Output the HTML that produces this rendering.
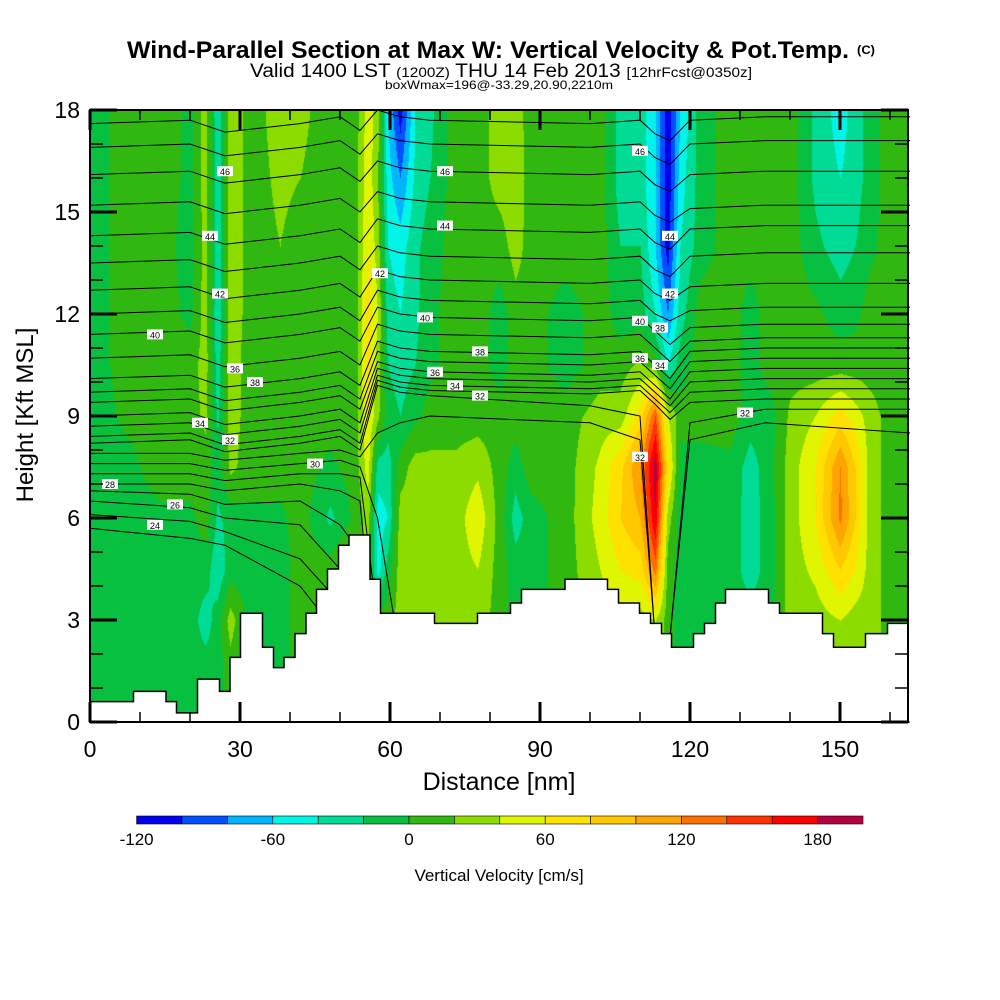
<!DOCTYPE html>
<html><head><meta charset="utf-8"><style>
html,body{margin:0;padding:0;background:#fff;width:1000px;height:1000px;overflow:hidden}
#wrap{position:relative;width:1000px;height:1000px}
canvas{position:absolute;left:90px;top:110px}
svg{position:absolute;left:0;top:0}
text{font-family:"Liberation Sans",sans-serif}
</style></head><body>
<div id="wrap">
<canvas id="field" width="818" height="612"></canvas>
<svg id="svg" width="1000" height="1000">
<g id="lines"></g>
<path id="terrain" fill="#fff" stroke="#000" stroke-width="1.5"/>
<g id="clabels"></g>
<g id="axes"></g>
<text x="127" y="58" textLength="722" lengthAdjust="spacingAndGlyphs" font-size="24" font-weight="bold">Wind-Parallel Section at Max W: Vertical Velocity &amp; Pot.Temp.</text>
<text x="857" y="54" textLength="18" lengthAdjust="spacingAndGlyphs" font-size="12" font-weight="bold">(C)</text>
<text x="250" y="77" textLength="502" lengthAdjust="spacingAndGlyphs" font-size="19">Valid 1400 LST <tspan font-size="14">(1200Z)</tspan> THU 14 Feb 2013 <tspan font-size="14">[12hrFcst@0350z]</tspan></text>
<text x="385" y="89" textLength="228" lengthAdjust="spacingAndGlyphs" font-size="12">boxWmax=196@-33.29,20.90,2210m</text>
<text x="499" y="790" text-anchor="middle" font-size="25">Distance [nm]</text>
<text transform="translate(33,415) rotate(-90)" text-anchor="middle" font-size="24">Height [Kft MSL]</text>
<g id="cbar"></g>
<text x="499" y="881" text-anchor="middle" font-size="17">Vertical Velocity [cm/s]</text>
</svg>
</div>
<script>
// ---- data ----
const colorLevels = [-120,-100,-80,-60,-40,-20,0,20,40,60,80,100,120,140,160,180,200];
const colorFills = ["#0000f0","#0050ff","#00b4ff","#00f5e6","#00dc96","#08c040","#30b810","#8cdc00","#e0f500","#ffe100","#ffc800","#ffa500","#ff6e00","#ff3200","#ff0000","#b40040"];
const cbarTicks = [-120,-60,0,60,120,180];
const xTicks = [0,30,60,90,120,150];
const yTicks = [0,3,6,9,12,15,18];
const gridX = [0,8,14,20,23,25.5,28,32,38,42,48,53,55.5,57.5,59.5,62,65,68,73,77.5,82,85,88,95,102,106,110,113,115.5,118,122,128,132,136,140,145,150,153,156,160,164];
const gridY = [18,16,14,12,10.5,9,7.5,6,4.5,3,1.5,0];
const wColumns = [
[-10,-10,-10,-10,-10,-10,-10,-10,-5,-5,-5,-5],
[10,10,10,10,10,5,-5,-10,-10,-10,-10,-10],
[10,10,10,10,10,10,10,-5,-10,-20,-10,-10],
[-5,-5,-10,-5,10,10,10,-5,-10,-10,-10,-10],
[30,30,30,30,30,25,10,10,-10,-30,-10,-10],
[-40,-35,-35,-40,-30,-25,-10,-25,-35,-10,-10,-10],
[35,35,35,35,30,30,25,-10,-10,30,10,10],
[10,10,10,10,10,10,10,-5,-10,-10,-10,-10],
[30,25,20,10,10,10,10,-5,-10,-10,-10,-10],
[25,20,10,10,10,10,10,10,10,10,10,10],
[10,10,10,5,10,10,-5,-25,10,10,10,10],
[10,10,10,10,10,10,10,5,30,30,30,30],
[50,55,60,70,70,60,50,30,20,20,20,20],
[30,20,30,40,30,25,-30,-50,-50,10,10,10],
[-60,-50,-40,-30,-20,-10,-30,-40,-10,10,10,10],
[-110,-80,-50,-40,-30,-20,10,30,30,30,30,30],
[-40,-35,-25,-25,-20,-5,30,30,30,30,30,30],
[-25,-20,-10,-5,-5,10,25,30,30,30,30,30],
[10,10,10,10,10,10,25,30,30,30,30,30],
[10,10,10,10,10,10,35,55,40,30,30,30],
[30,30,10,-10,-10,10,10,10,10,10,10,10],
[30,35,30,10,10,10,-10,-30,-10,-10,-10,-10],
[10,10,10,10,10,10,10,-10,-10,-10,-10,-10],
[10,10,10,-10,-10,10,10,10,10,10,10,10],
[10,10,10,10,10,30,45,50,40,30,30,30],
[-30,-30,-20,-10,10,30,75,80,60,30,30,30],
[-30,-30,-20,-10,25,70,120,100,70,30,30,30],
[-60,-60,-60,-40,10,140,195,180,130,40,40,40],
[-115,-115,-110,-80,-40,40,70,30,10,10,10,10],
[-60,-50,-40,-30,-10,10,-10,-10,-10,-10,-10,-10],
[-10,-10,-10,10,10,10,-10,-10,-10,-10,-10,-10],
[10,10,10,10,10,10,-5,-10,-10,-10,-10,-10],
[10,10,10,-10,-10,-10,-30,-30,-30,-10,-10,-10],
[10,10,10,10,10,-10,-5,-10,-10,-10,-10,-10],
[10,10,10,10,10,25,30,30,30,30,30,30],
[-25,-25,-15,5,10,40,60,60,45,30,30,30],
[-50,-40,-30,-10,10,70,120,125,80,40,30,30],
[-30,-30,-20,-5,10,50,80,80,60,30,30,30],
[-10,-10,-5,10,10,30,30,30,30,30,30,30],
[10,10,10,10,10,10,10,10,10,10,10,10],
[10,10,10,10,10,10,10,10,10,10,10,10]
];
const terrainX = [0,8.7,15.2,17.3,21.5,25.9,28,30.1,34.5,36.7,38.8,41,43.2,45.3,47.5,49.7,51.8,56,58.1,68.9,77.5,84.1,86.3,95,103.5,105.7,109.9,112.1,114.3,116.3,120.7,122.9,125.1,127.1,135.7,137.9,146.5,148.7,155.1,159.5];
const terrainH = [0.6,0.9,0.6,0.27,1.26,0.9,1.9,3.2,2.2,1.6,1.9,2.6,3.2,3.9,4.5,5.2,5.5,4.2,3.2,2.9,3.2,3.5,3.9,4.2,3.9,3.5,3.2,2.9,2.6,2.2,2.6,2.9,3.5,3.9,3.5,3.2,2.6,2.2,2.6,2.9];
const thetaX = [0,20,27,42,50,54,57.5,62,68,100,110,113,116,120,135,164];
const thetaLevels = [24,25,26,27,28,29,30,31,32,33,34,35,36,37,38,39,40,41,42,43,44,45,46,47,48];
const thetaHeights = [
[5.7,5.4,5.2,4.0,2.5,1.5,0,0,0,0,0,0,0,0,0,0],
[6.1,5.9,5.6,4.8,3.5,2.5,0,0,0,0,0,0,0,0,0,0],
[6.5,6.3,6.0,5.8,4.5,3.5,0,0,0,0,0,0,0,0,0,0],
[6.8,6.7,6.4,6.5,5.8,5.0,0,0,0,0,0,0,0,0,0,0],
[7.0,7.0,6.8,7.0,6.8,6.5,1,0,0,0,0,0,0,0,0,0],
[7.3,7.3,7.1,7.3,7.3,7.2,3,0,0,0,0,0,0,0,0,0],
[7.6,7.6,7.4,7.6,7.7,7.5,6,2,0,0,0,0,0,0,0,0],
[7.9,7.9,7.7,7.9,8.0,7.8,8.5,8.8,9.0,8.8,8.3,2.5,2.5,8.3,8.8,8.5],
[8.2,8.3,7.95,8.2,8.4,8.0,9.9,9.7,9.6,9.3,9.0,2.5,2.5,8.8,9.2,9.2],
[8.4,8.5,8.15,8.4,8.6,8.2,10.05,9.85,9.75,9.65,9.75,9.35,8.9,9.4,9.5,9.5],
[8.7,8.8,8.45,8.7,8.9,8.5,10.2,10.0,9.9,9.8,9.9,9.5,9.1,9.7,9.8,9.8],
[9.0,9.1,8.75,9.0,9.2,8.8,10.4,10.2,10.1,10.0,10.1,9.7,9.3,10.0,10.1,10.1],
[9.4,9.5,9.15,9.4,9.6,9.2,10.6,10.4,10.3,10.2,10.3,9.9,9.5,10.3,10.4,10.4],
[9.7,9.8,9.45,9.7,9.9,9.5,10.9,10.7,10.6,10.5,10.6,10.2,9.8,10.6,10.7,10.7],
[10.1,10.2,9.85,10.1,10.3,9.9,11.2,11.0,10.9,10.8,10.9,10.5,10.1,10.9,11.0,11.0],
[10.7,10.8,10.45,10.7,10.9,10.5,11.7,11.5,11.4,11.3,11.4,11.0,10.6,11.2,11.3,11.3],
[11.4,11.5,11.15,11.4,11.6,11.2,12.2,12.0,11.9,11.8,11.9,11.5,11.1,11.6,11.7,11.7],
[12.0,12.1,11.75,12.0,12.2,11.8,12.7,12.5,12.4,12.3,12.4,12.0,11.8,12.1,12.2,12.2],
[12.7,12.8,12.45,12.7,12.9,12.5,13.3,13.1,13.0,12.9,13.0,12.6,12.4,12.8,12.9,12.9],
[13.5,13.6,13.25,13.5,13.7,13.3,14.0,13.8,13.7,13.6,13.7,13.3,13.1,13.7,13.8,13.8],
[14.3,14.4,14.05,14.3,14.5,14.1,14.8,14.6,14.5,14.4,14.5,14.1,13.9,14.5,14.6,14.6],
[15.2,15.3,14.95,15.2,15.4,15.0,15.6,15.4,15.3,15.2,15.3,14.9,14.7,15.1,15.2,15.2],
[16.1,16.2,15.85,16.1,16.3,15.9,16.5,16.3,16.2,16.1,16.2,15.8,15.6,16.1,16.2,16.2],
[16.9,17.0,16.65,16.9,17.1,16.7,17.3,17.1,17.0,16.9,17.0,16.6,16.4,17.0,17.1,17.1],
[17.6,17.7,17.35,17.6,17.8,17.4,18.0,17.8,17.7,17.6,17.7,17.3,17.1,17.7,17.8,17.8]
];
const labelText = ["46","44","42","40","38","36","34","32","30","28","26","24","46","44","42","40","38","36","34","32","46","44","42","40","38","36","34","32","32"];
const labelX = [27,24,26,13,33,29,22,28,45,4,17,13,71,71,58,67,78,69,73,78,110,116,116,110,114,110,114,110,131];
const labelH = [16.2,14.3,12.6,11.4,10.0,10.4,8.8,8.3,7.6,7.0,6.4,5.8,16.2,14.6,13.2,11.9,10.9,10.3,9.9,9.6,16.8,14.3,12.6,11.8,11.6,10.7,10.5,7.8,9.1];

// ---- scales ----
const X0=90, X1=908, Y0=110, Y1=722;
const sx = d => X0 + d*5;
const sy = h => Y1 - h*34;
const NS='http://www.w3.org/2000/svg';
function mk(tag, parent){const e=document.createElementNS(NS,tag);parent.appendChild(e);return e;}
function hexRGB(h){return [parseInt(h.substr(1,2),16),parseInt(h.substr(3,2),16),parseInt(h.substr(5,2),16)];}

// ---- field ----
(function(){
  const cv=document.getElementById('field'), ctx=cv.getContext('2d');
  const W=cv.width,H=cv.height, img=ctx.createImageData(W,H);
  const rgb=colorFills.map(hexRGB);
  const ny=gridY.length;
  for(let px=0;px<W;px++){
    const d=px/5;
    let i=0; while(i<gridX.length-2 && d>gridX[i+1]) i++;
    const tx=Math.max(0,Math.min(1,(d-gridX[i])/(gridX[i+1]-gridX[i])));
    for(let py=0;py<H;py++){
      const h=18-py/34;
      let j=0; while(j<ny-2 && h<gridY[j+1]) j++;
      const ty=Math.max(0,Math.min(1,(gridY[j]-h)/(gridY[j]-gridY[j+1])));
      const a=wColumns[i][j],b=wColumns[i+1][j],c=wColumns[i][j+1],e=wColumns[i+1][j+1];
      const v=(a*(1-tx)+b*tx)*(1-ty)+(c*(1-tx)+e*tx)*ty;
      let k=0; while(k<rgb.length-1 && v>=colorLevels[k+1]) k++;
      const o=(py*W+px)*4; img.data[o]=rgb[k][0];img.data[o+1]=rgb[k][1];img.data[o+2]=rgb[k][2];img.data[o+3]=255;
    }
  }
  ctx.putImageData(img,0,0);
})();

// ---- contours ----
const gl=document.getElementById('lines');
thetaLevels.forEach((lev,li)=>{
  const p=mk('polyline',gl);
  p.setAttribute('points',thetaX.map((x,k)=>sx(x)+','+Math.max(Y0,sy(thetaHeights[li][k]))).join(' '));
  p.setAttribute('fill','none');p.setAttribute('stroke','#000');p.setAttribute('stroke-width','1');
  
  
});

// ---- terrain ----
(function(){
  let d='M'+sx(0)+','+Y1;
  terrainX.forEach((x,k)=>{const xe=k+1<terrainX.length?terrainX[k+1]:164;d+=' L'+sx(x)+','+sy(terrainH[k])+' L'+Math.min(X1,sx(xe))+','+sy(terrainH[k]);});
  d+=' L'+X1+','+Y1+' Z';
  document.getElementById('terrain').setAttribute('d',d);
})();

// ---- contour labels ----
const gc=document.getElementById('clabels');
labelText.forEach((t,k)=>{
  const r=mk('rect',gc);
  r.setAttribute('x',sx(labelX[k])-8);r.setAttribute('y',sy(labelH[k])-5);r.setAttribute('width',16);r.setAttribute('height',10);r.setAttribute('fill','#fff');
  
  
  const tx=mk('text',gc);
  tx.setAttribute('x',sx(labelX[k]));tx.setAttribute('y',sy(labelH[k])+4);tx.setAttribute('text-anchor','middle');tx.setAttribute('font-size','9');tx.textContent=t;
  
  
});

// ---- axes ----
const ga=document.getElementById('axes');
function line(x1,y1,x2,y2,w,name){const l=mk('line',ga);l.setAttribute('x1',x1);l.setAttribute('y1',y1);l.setAttribute('x2',x2);l.setAttribute('y2',y2);l.setAttribute('stroke','#000');l.setAttribute('stroke-width',w);
  
  }
for(let d=0;d<=160;d+=10){const big=d%30===0;const L=big?20:10;line(sx(d),Y1,sx(d),Y1-L,big?3:1.5,'x-tick');line(sx(d),Y0,sx(d),Y0+L,big?3:1.5,'x-tick-top');}
for(let h=0;h<=18;h++){const big=h%3===0;const L=big?27:13;line(X0,sy(h),X0+L,sy(h),big?3:1.5,'y-tick');line(X1,sy(h),X1-L,sy(h),big?3:1.5,'y-tick-right');}
const fr=mk('rect',ga);fr.setAttribute('x',X0);fr.setAttribute('y',Y0);fr.setAttribute('width',X1-X0);fr.setAttribute('height',Y1-Y0);fr.setAttribute('fill','none');fr.setAttribute('stroke','#000');fr.setAttribute('stroke-width','2');


xTicks.forEach(v=>{const t=mk('text',ga);t.setAttribute('x',sx(v));t.setAttribute('y',757);t.setAttribute('text-anchor','middle');t.setAttribute('font-size','23');t.textContent=v;
  
  });
yTicks.forEach(v=>{const t=mk('text',ga);t.setAttribute('x',80);t.setAttribute('y',sy(v)+8);t.setAttribute('text-anchor','end');t.setAttribute('font-size','23');t.textContent=v;
  
  });

// ---- colorbar ----
const gb=document.getElementById('cbar');
const cx = v => 409 + v*2.27;
colorFills.forEach((c,k)=>{const r=mk('rect',gb);r.setAttribute('x',cx(colorLevels[k]));r.setAttribute('y',816);r.setAttribute('width',cx(colorLevels[k+1])-cx(colorLevels[k]));r.setAttribute('height',8);r.setAttribute('fill',c);r.setAttribute('stroke','#000');r.setAttribute('stroke-width','0.6');
  
  });
cbarTicks.forEach(v=>{const t=mk('text',gb);t.setAttribute('x',cx(v));t.setAttribute('y',845);t.setAttribute('text-anchor','middle');t.setAttribute('font-size','17');t.textContent=v;
  
  });
</script>
</body></html>
